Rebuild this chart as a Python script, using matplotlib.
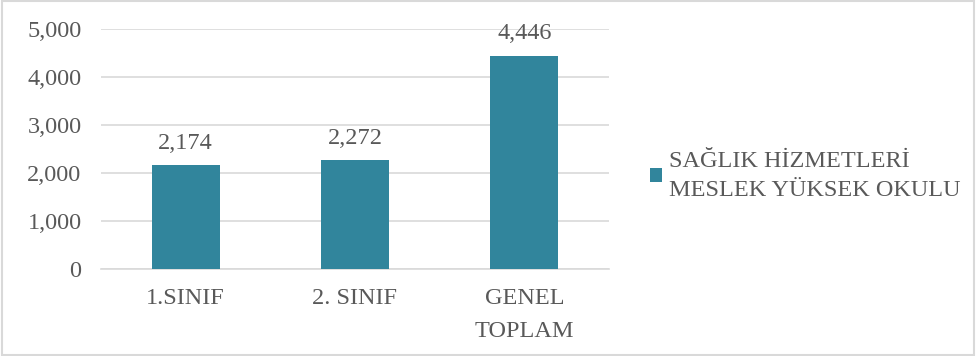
import matplotlib.pyplot as plt
from matplotlib.ticker import FuncFormatter

# Data
categories = ["1.SINIF", "2. SINIF", "GENEL\nTOPLAM"]
values = [2174, 2272, 4446]
series_name = "SAĞLIK HİZMETLERİ\nMESLEK YÜKSEK OKULU"

plt.rcParams['font.family'] = ['Liberation Serif', 'DejaVu Serif']
text_color = "#595959"
bar_color = "#31859C"
fsize = 17.5

fig = plt.figure(figsize=(9.78, 3.56), dpi=100)
ax = fig.add_axes([101 / 978, 1 - 269 / 356, 508 / 978, 240 / 356])

x = range(len(categories))
bars = ax.bar(x, values, width=0.4, color=bar_color, zorder=3, label=series_name)

for xi, v in zip(x, values):
    ax.annotate(f"{v:,}", (xi, v), xytext=(0, 8), textcoords="offset points",
                ha="center", va="bottom", fontsize=fsize, color=text_color)

ax.set_xlim(-0.5, 2.5)
ax.set_ylim(0, 5000)
ax.set_yticks(range(0, 5001, 1000))
ax.yaxis.set_major_formatter(FuncFormatter(lambda v, p: f"{int(v):,}"))
ax.set_xticks(list(x))
ax.set_xticklabels(categories, linespacing=1.7)

ax.grid(axis="y", color="#D9D9D9", linewidth=1.2, zorder=0)
for s in ["top", "right", "left"]:
    ax.spines[s].set_visible(False)
ax.spines["bottom"].set_color("#D9D9D9")
ax.spines["bottom"].set_linewidth(1.2)
ax.tick_params(axis="both", length=0, labelsize=fsize, labelcolor=text_color)
ax.tick_params(axis="y", pad=14)
ax.tick_params(axis="x", pad=14)

leg = fig.legend(handles=[bars], labels=[series_name], loc="center left",
                 bbox_to_anchor=(628 / 978, 1 - 176 / 356), frameon=False,
                 prop={'family': 'Liberation Serif', 'size': fsize},
                 labelcolor=text_color, handlelength=0.5,
                 handleheight=0.5, handletextpad=0.3)
for t in leg.get_texts():
    t.set_linespacing(1.55)

# Outer chart border
fig.patches.append(plt.Rectangle((0.002, 0.003), 0.994, 0.994, transform=fig.transFigure,
                                 fill=False, edgecolor="#D9D9D9", linewidth=1.5))

fig.savefig("out.png", dpi=100)
